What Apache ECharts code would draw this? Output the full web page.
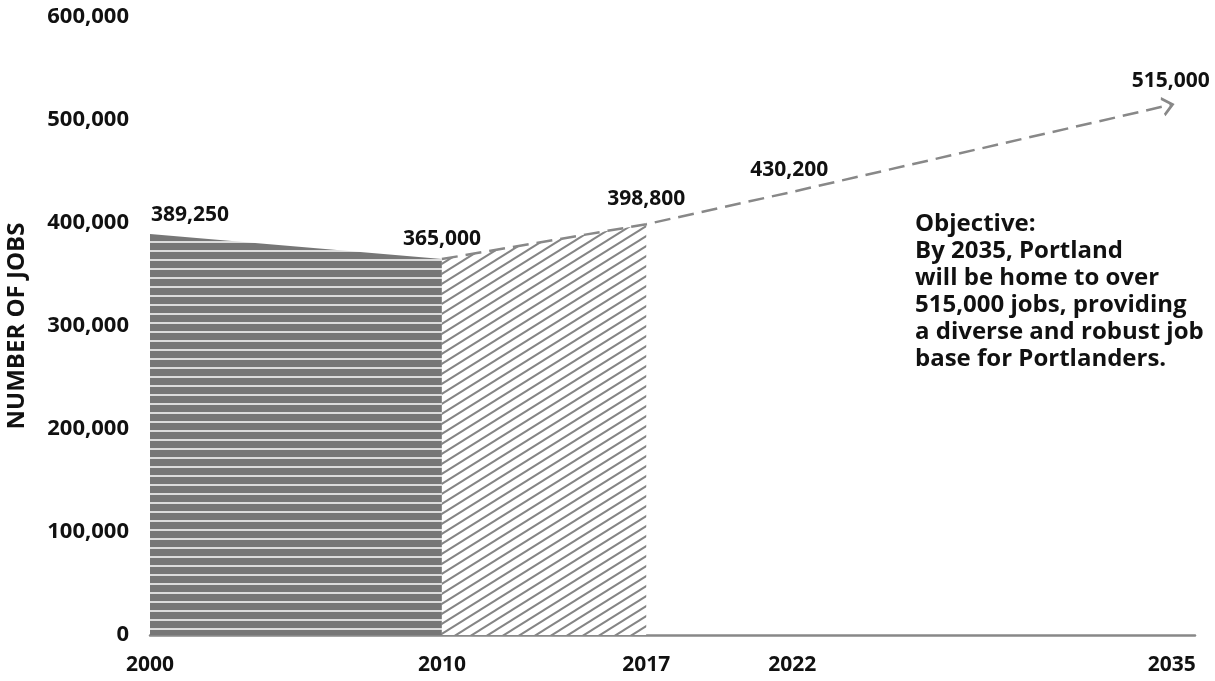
<!DOCTYPE html>
<html>
<head>
<meta charset="utf-8">
<script src="https://cdn.jsdelivr.net/npm/echarts@6/dist/echarts.min.js"></script>
<style>
  html, body { margin: 0; padding: 0; background: #fff; }
  #chart { width: 1215px; height: 681px; }
</style>
</head>
<body>
<div id="chart"></div>
<script>
// jobs data (years / number of jobs)
var pastJobs = [[2000, 389250], [2010, 365000]];
var recentJobs = [[2010, 365000], [2017, 398800]];
var projectedJobs = [[2010, 365000], [2017, 398800], [2022, 430200], [2035, 515000]];
var xTickYears = [2000, 2010, 2017, 2022, 2035];
var objectiveText = [
  'Objective:',
  'By 2035, Portland',
  'will be home to over',
  '515,000 jobs, providing',
  'a diverse and robust job',
  'base for Portlanders.'
];

var FONT = '"Open Sans", Lato, sans-serif';

function fmt(v) {
  return String(v).replace(/\B(?=(\d{3})+(?!\d))/g, ',');
}

// horizontal stripes for 2000-2010
function stripePattern() {
  var c = document.createElement('canvas');
  c.width = 10; c.height = 9;
  var ctx = c.getContext('2d');
  ctx.fillStyle = '#777777';
  ctx.fillRect(0, 0, 10, 9);
  ctx.fillStyle = '#dcdcdc';
  ctx.fillRect(0, 7, 10, 2);
  return c;
}

// diagonal hatch for 2010-2017
function hatchPattern() {
  var w = 16, h = 10;
  var c = document.createElement('canvas');
  c.width = w; c.height = h;
  var ctx = c.getContext('2d');
  ctx.fillStyle = '#ffffff';
  ctx.fillRect(0, 0, w, h);
  ctx.strokeStyle = '#858585';
  ctx.lineWidth = 2;
  ctx.beginPath();
  ctx.moveTo(-w, 2 * h); ctx.lineTo(2 * w, -h);
  ctx.moveTo(-2 * w, 2 * h); ctx.lineTo(w, -h);
  ctx.moveTo(0, 2 * h); ctx.lineTo(3 * w, -h);
  ctx.stroke();
  return c;
}

var labelStyle = {
  show: true,
  position: 'top',
  fontFamily: FONT,
  fontWeight: 'bold',
  fontSize: 21,
  color: '#111',
  formatter: function (p) { return fmt(p.value[1]); }
};

var labelOffsets = [[0, -4], [0, -10], [-3, -6], [3, 4]];

var projectedData = projectedJobs.map(function (d, i) {
  var item = { value: d };
  item.label = Object.assign({}, labelStyle, { offset: labelOffsets[i] });
  if (i === projectedJobs.length - 1) {
    item.symbol = 'path://M0,0 L10,8 L0,16';
    item.symbolSize = [10, 17];
    item.symbolRotate = 13;
    item.symbolOffset = [-4, 1];
    item.itemStyle = { color: 'none', borderColor: '#888', borderWidth: 2.5 };
  }
  return item;
});

var chart = echarts.init(document.getElementById('chart'));
chart.setOption({
  backgroundColor: '#fff',
  animation: false,
  grid: { left: 150, right: 20, top: 17, bottom: 46, containLabel: false, outerBoundsMode: 'none' },
  xAxis: {
    type: 'value',
    min: 2000,
    max: 2035.8,
    interval: 1,
    splitLine: { show: false },
    axisTick: { show: false },
    axisLine: { show: true, lineStyle: { color: '#888', width: 2.5 } },
    axisLabel: {
      margin: 20,
      fontFamily: FONT,
      fontWeight: 'bold',
      fontSize: 21,
      color: '#111',
      showMaxLabel: false,
      formatter: function (v) {
        return xTickYears.indexOf(v) >= 0 ? String(v) : '';
      }
    }
  },
  yAxis: {
    type: 'value',
    min: 0,
    max: 600000,
    interval: 100000,
    name: 'NUMBER OF JOBS',
    nameLocation: 'middle',
    nameRotate: 90,
    nameGap: 121,
    nameTextStyle: { fontFamily: FONT, fontWeight: 'bold', fontSize: 24, color: '#111' },
    splitLine: { show: false },
    axisTick: { show: false },
    axisLine: { show: false },
    axisLabel: {
      margin: 21,
      fontFamily: FONT,
      fontWeight: 'bold',
      fontSize: 22,
      color: '#111',
      formatter: function (v) { return fmt(v); }
    }
  },
  graphic: [{
    type: 'text',
    left: 915,
    top: 211,
    style: {
      text: objectiveText.join('\n'),
      font: 'bold 24px ' + FONT,
      lineHeight: 27,
      fill: '#111'
    }
  }],
  series: [
    {
      type: 'line',
      data: pastJobs,
      symbol: 'none',
      lineStyle: { width: 0 },
      areaStyle: { color: { image: stripePattern(), repeat: 'repeat' }, opacity: 1 },
      z: 1
    },
    {
      type: 'line',
      data: recentJobs,
      symbol: 'none',
      lineStyle: { width: 0 },
      areaStyle: { color: { image: hatchPattern(), repeat: 'repeat' }, opacity: 1 },
      z: 1
    },
    {
      type: 'line',
      data: projectedData,
      symbol: 'circle',
      symbolSize: 0.1,
      itemStyle: { color: '#888' },
      lineStyle: { color: '#888', width: 2.5, type: [16, 8] },
      z: 3
    },
    {
      // label for the 2000 value
      type: 'scatter',
      data: [{
        value: pastJobs[0],
        label: Object.assign({}, labelStyle, { offset: [40, -4] })
      }],
      symbolSize: 0.1,
      itemStyle: { color: '#777', opacity: 1 },
      z: 4
    }
  ]
});
</script>
</body>
</html>
